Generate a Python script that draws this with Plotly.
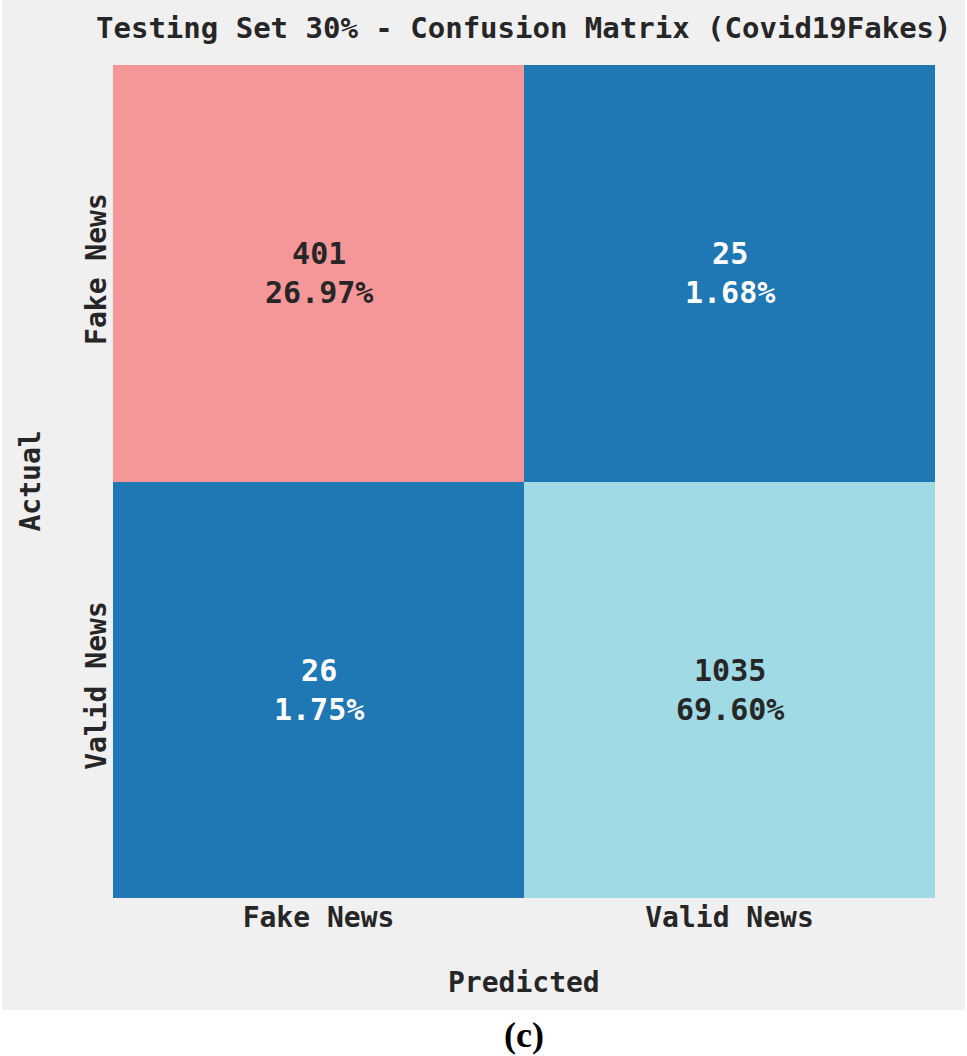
import plotly.graph_objects as go

# confusion matrix values
classes = ["Fake News", "Valid News"]
counts = [[401, 25], [26, 1035]]
percents = ["26.97%", "1.68%", "1.75%", "69.60%"]

# colour index per cell (0 salmon, 1 dark blue, 2 light cyan)
cell_color = [[0, 1], [1, 2]]
palette = ["#f59798", "#1f77b4", "#9fdae5"]
text_colors = ["#262626", "#ffffff", "#262626"]

MONO = "DejaVu Sans Mono"
W, H = 822, 833  # plot area size in px

fig = go.Figure()
fig.add_trace(go.Heatmap(
    z=cell_color,
    x=classes,
    y=classes,
    colorscale=[[0, palette[0]], [0.333, palette[0]], [0.333, palette[1]],
                [0.667, palette[1]], [0.667, palette[2]], [1, palette[2]]],
    zmin=0, zmax=2,
    showscale=False,
    hoverinfo="skip",
))

k = 0
for i, actual in enumerate(classes):
    for j, pred in enumerate(classes):
        fig.add_annotation(
            x=pred, y=actual, xref="x", yref="y",
            text=f"{counts[i][j]}<br>{percents[k]}",
            showarrow=False,
            font=dict(family=MONO, size=30, weight="bold",
                      color=text_colors[cell_color[i][j]]),
        )
        k += 1

# grey figure panel like the matplotlib style background
fig.add_shape(type="rect", xref="paper", yref="paper",
              x0=-111 / W, x1=(965 - 113) / W,
              y0=-112 / H, y1=1 + 70 / H,
              fillcolor="#f0f0f0", line_width=0, layer="below")

label_font = dict(family=MONO, size=28, weight="bold", color="#262626")
fig.add_annotation(text="Testing Set 30% - Confusion Matrix (Covid19Fakes)",
                   xref="paper", yref="paper", x=0.5, y=1 + 37 / H,
                   xanchor="center", yanchor="middle", showarrow=False,
                   font=dict(label_font, size=29))
fig.add_annotation(text="Predicted", xref="paper", yref="paper",
                   x=0.5, y=-85 / H, xanchor="center", yanchor="middle",
                   showarrow=False, font=label_font)
fig.add_annotation(text="Actual", xref="paper", yref="paper",
                   x=-83 / W, y=0.5, xanchor="center", yanchor="middle",
                   textangle=-90, showarrow=False, font=label_font)
fig.add_annotation(text="<b>(c)</b>", xref="paper", yref="paper",
                   x=0.5, y=-137 / H, xanchor="center", yanchor="middle",
                   showarrow=False,
                   font=dict(family="Liberation Serif", size=36, color="#000000"))

fig.update_xaxes(showgrid=False, zeroline=False, ticks="", ticklen=0,
                 tickfont=label_font)
fig.update_yaxes(showgrid=False, zeroline=False, ticks="", autorange="reversed",
                 tickangle=-90, tickfont=label_font)

fig.update_layout(
    width=967, height=1056,
    margin=dict(l=113, r=32, t=65, b=158),
    paper_bgcolor="#ffffff",
    plot_bgcolor="#f0f0f0",
)

fig.write_html("out.html", config={"displayModeBar": False},
               post_script="document.body.style.margin='0';")
